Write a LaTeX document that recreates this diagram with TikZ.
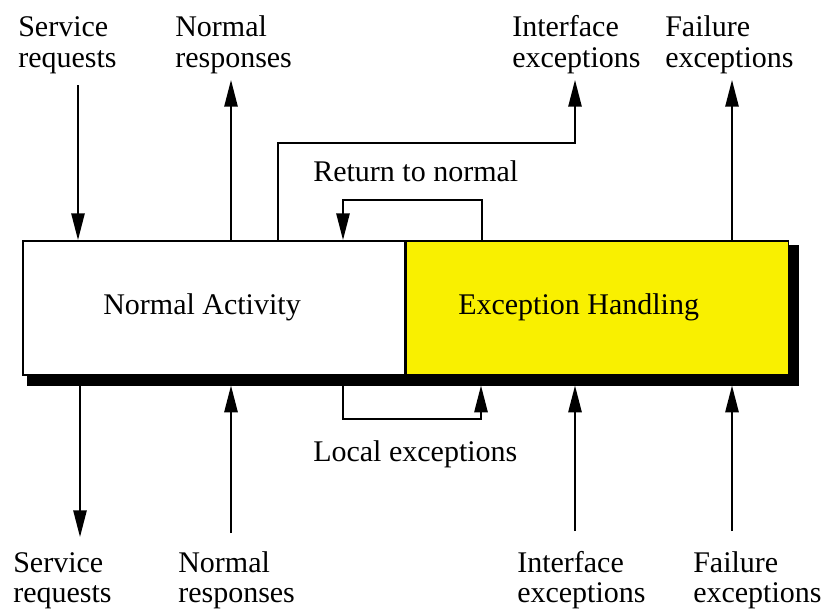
\documentclass[tikz,border=0pt]{standalone}
\usepackage{fontspec}
\setmainfont{Liberation Serif}
\usetikzlibrary{arrows.meta,positioning,calc,backgrounds}
\definecolor{handlecolor}{RGB}{249,240,0}

\begin{document}
\begin{tikzpicture}[x=0.75pt,y=-0.75pt,
  font=\fontsize{22.5}{22.5}\selectfont,
  box/.style={draw=black, line width=1.2pt, inner sep=0pt, anchor=north west,
    minimum width=286.5pt, minimum height=100.5pt},
  flow/.style={line width=1.2pt, -{Triangle[length=20pt,width=10pt]}},
  tag/.style={align=left, inner sep=0pt, anchor=base west}]
\useasboundingbox (0,0) rectangle (830,610);

% Boxes
\node[box, fill=white] (normal) at (22,240) {};
\node[box, fill=handlecolor] (handler) at (normal.north east) {};

% Shadow
\begin{scope}[on background layer]
  \fill[black] ([shift={(5,5)}]normal.north west) rectangle ([shift={(10,10)}]handler.south east);
\end{scope}
\coordinate (shadowbase) at ([shift={(0,10)}]normal.south);

% Box texts
\node[tag] (normaltext) at (103,314) {Normal Activity};
\node[tag] (handlertext) at (458,314) {Exception Handling};

% Top labels
\node[tag] (reqin) at (18,67) {Service\\requests};
\node[tag] (respout) at (175,67) {Normal\\responses};
\node[tag] (ifout) at (512,67) {Interface\\exceptions};
\node[tag] (failout) at (665,67) {Failure\\exceptions};

% Bottom labels
\node[tag] (reqout) at (13,602) {Service\\requests};
\node[tag] (respin) at (178,602) {Normal\\responses};
\node[tag] (ifin) at (517,602) {Interface\\exceptions};
\node[tag] (failin) at (693,602) {Failure\\exceptions};

% Loop labels
\node[tag] (backtext) at (313,181) {Return to normal};
\node[tag] (localtext) at (313,461) {Local exceptions};

% Top connectors
\coordinate (reqinend) at (78,85);
\coordinate (respoutend) at (231,80);
\coordinate (ifbend) at (278,143);
\coordinate (ifoutend) at (575,80);
\coordinate (failoutend) at (732,80);
\draw[flow] (reqinend) -- (reqinend |- normal.north);
\draw[flow] (respoutend |- normal.north) -- (respoutend);
\draw[flow] (ifbend |- normal.north) -- (ifbend) -| (ifoutend);
\draw[flow] (failoutend |- handler.north) -- (failoutend);

% Return to normal
\coordinate (backup) at (482,200);
\coordinate (backdown) at (343,200);
\draw[flow] (backup |- handler.north) -- (backup) -- (backdown) -- (backdown |- normal.north);

% Local exceptions
\coordinate (localdown) at (343,419);
\coordinate (localup) at (481,419);
\draw[flow] (localdown |- shadowbase) -- (localdown) -- (localup) -- (localup |- shadowbase);

% Bottom connectors
\coordinate (reqoutend) at (80,537);
\coordinate (respinstart) at (231,533);
\coordinate (ifinstart) at (575,531);
\coordinate (failinstart) at (732,531);
\draw[flow] (reqoutend |- shadowbase) -- (reqoutend);
\draw[flow] (respinstart) -- (respinstart |- shadowbase);
\draw[flow] (ifinstart) -- (ifinstart |- shadowbase);
\draw[flow] (failinstart) -- (failinstart |- shadowbase);

\end{tikzpicture}
\end{document}
